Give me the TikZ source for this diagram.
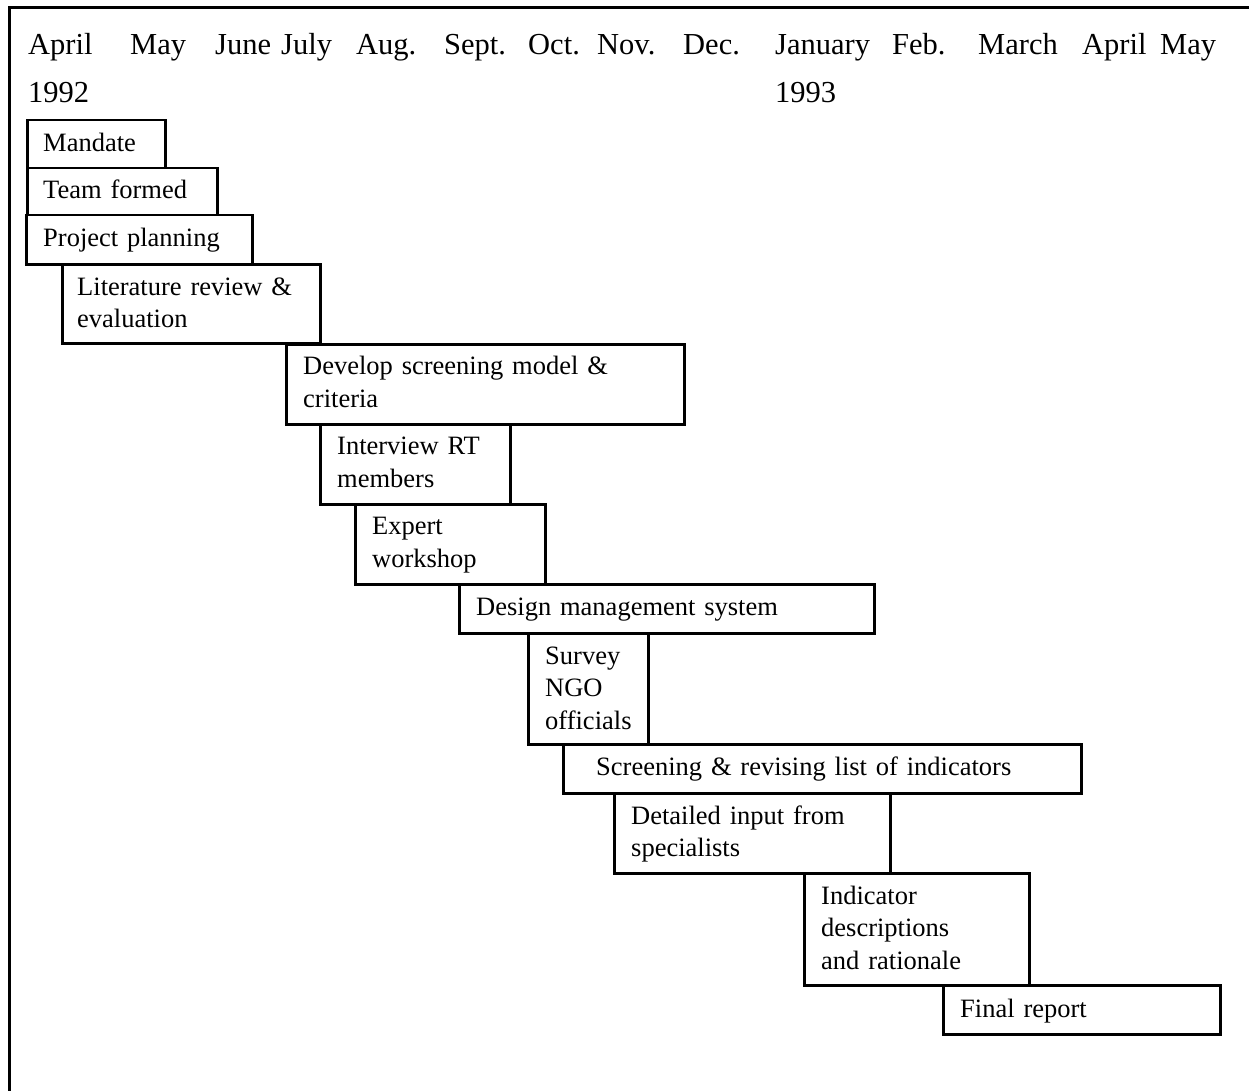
\documentclass[tikz,border=0pt]{standalone}
\usepackage{fontspec}
\setmainfont{Liberation Serif}

\tikzset{
  gbox/.style={draw=black, line width=2.5pt, rectangle, inner sep=0pt, anchor=north west},
  boxtext/.style={inner sep=0pt, anchor=base west, align=left, text width=420pt,
    font=\fontsize{26.5}{32.5}\selectfont},
  monthtext/.style={inner sep=0pt, anchor=base west, font=\fontsize{30.5}{48}\selectfont},
}

\begin{document}
\begin{tikzpicture}[x=1pt, y=-1pt]
  \useasboundingbox (0,0) rectangle (1249,1091);

  % outer frame (open on the right and bottom)
  \draw[line width=3pt] (9,1091) -- (9,8) -- (1249,8);

  % month headings
  \node[monthtext] (m1)  at (28,55)   {April};
  \node[monthtext] (m2)  at (130,55)  {May};
  \node[monthtext] (m3)  at (215,55)  {June};
  \node[monthtext] (m4)  at (281,55)  {July};
  \node[monthtext] (m5)  at (356,55)  {Aug.};
  \node[monthtext] (m6)  at (444,55)  {Sept.};
  \node[monthtext] (m7)  at (528,55)  {Oct.};
  \node[monthtext] (m8)  at (597,55)  {Nov.};
  \node[monthtext] (m9)  at (683,55)  {Dec.};
  \node[monthtext] (m10) at (775,55)  {January};
  \node[monthtext] (m11) at (892,55)  {Feb.};
  \node[monthtext] (m12) at (978,55)  {March};
  \node[monthtext] (m13) at (1082,55) {April};
  \node[monthtext] (m14) at (1160,55) {May};
  \node[monthtext] (y1)  at (28,103)  {1992};
  \node[monthtext] (y2)  at (775,103) {1993};

  % task bars
  \node[gbox, minimum width=138pt, minimum height=48pt]  (b1)  at (26,119)  {};
  \node[gbox, minimum width=190pt, minimum height=47pt]  (b2)  at (26,167)  {};
  \node[gbox, minimum width=226pt, minimum height=49pt]  (b3)  at (25,214)  {};
  \node[gbox, minimum width=258pt, minimum height=79pt]  (b4)  at (61,263)  {};
  \node[gbox, minimum width=398pt, minimum height=80pt]  (b5)  at (285,343) {};
  \node[gbox, minimum width=190pt, minimum height=80pt]  (b6)  at (319,423) {};
  \node[gbox, minimum width=190pt, minimum height=80pt]  (b7)  at (354,503) {};
  \node[gbox, minimum width=415pt, minimum height=49pt]  (b8)  at (458,583) {};
  \node[gbox, minimum width=120pt, minimum height=111pt] (b9)  at (527,632) {};
  \node[gbox, minimum width=518pt, minimum height=49pt]  (b10) at (562,743) {};
  \node[gbox, minimum width=276pt, minimum height=80pt]  (b11) at (613,792) {};
  \node[gbox, minimum width=225pt, minimum height=112pt] (b12) at (803,872) {};
  \node[gbox, minimum width=277pt, minimum height=49pt]  (b13) at (942,984) {};

  % task labels
  \node[boxtext] (t1)  at ([shift={(17,33)}]b1.north west)   {Mandate};
  \node[boxtext] (t2)  at ([shift={(17,32)}]b2.north west)   {Team formed};
  \node[boxtext] (t3)  at ([shift={(18,33)}]b3.north west)   {Project planning};
  \node[boxtext] (t4)  at ([shift={(16,32)}]b4.north west)   {Literature review \&\\evaluation};
  \node[boxtext] (t5)  at ([shift={(18,31.5)}]b5.north west) {Develop screening model \&\\criteria};
  \node[boxtext] (t6)  at ([shift={(18,31.5)}]b6.north west) {Interview RT\\members};
  \node[boxtext] (t7)  at ([shift={(18,31.5)}]b7.north west) {Expert\\workshop};
  \node[boxtext] (t8)  at ([shift={(18,32.5)}]b8.north west) {Design management system};
  \node[boxtext] (t9)  at ([shift={(18,32)}]b9.north west)   {Survey\\NGO\\officials};
  \node[boxtext] (t10) at ([shift={(34,32.5)}]b10.north west) {Screening \& revising list of indicators};
  \node[boxtext] (t11) at ([shift={(18,32)}]b11.north west)  {Detailed input from\\specialists};
  \node[boxtext] (t12) at ([shift={(18,32)}]b12.north west)  {Indicator\\descriptions\\and rationale};
  \node[boxtext] (t13) at ([shift={(18,33)}]b13.north west)  {Final report};
\end{tikzpicture}
\end{document}
